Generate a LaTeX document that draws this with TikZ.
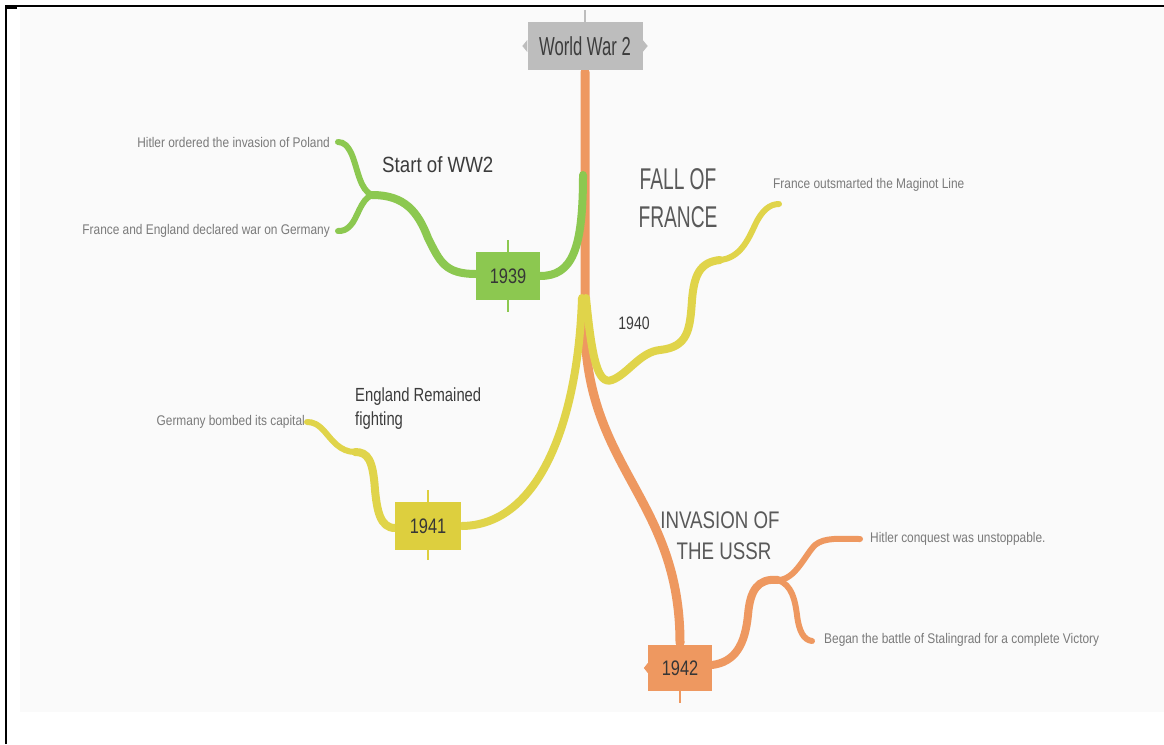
\documentclass[tikz,border=0pt]{standalone}
\usepackage{fontspec}
\setmainfont{Liberation Sans}
\newfontfamily\slimA[FakeStretch=0.64]{Liberation Sans}
\newfontfamily\slimB[FakeStretch=0.78]{Liberation Sans}
\newfontfamily\slimC[FakeStretch=0.85]{Liberation Sans}
\definecolor{canvas}{HTML}{FAFAFA}
\definecolor{rootgray}{HTML}{BDBDBD}
\definecolor{ink}{HTML}{3C3C3C}
\definecolor{leafink}{HTML}{7A7A7A}
\definecolor{grn}{HTML}{8CC850}
\definecolor{ylw}{HTML}{E0D44A}
\definecolor{ylwbox}{HTML}{DDCF3E}
\definecolor{org}{HTML}{EE9860}
\tikzset{
  rootbox/.style={fill=rootgray, minimum width=115pt, minimum height=48pt, inner sep=0pt,
    font=\slimA\fontsize{26}{28}\selectfont, text=ink},
  yearbox/.style={minimum width=66pt, minimum height=48pt, inner sep=0pt,
    font=\slimB\fontsize{21}{23}\selectfont, text=ink!90!black},
  leaf/.style={font=\slimC\fontsize{14}{16}\selectfont, text=leafink, inner sep=0pt},
  topic/.style={font=\slimB\fontsize{19}{24}\selectfont, text=ink, inner sep=0pt, align=left},
  bigtopic/.style={font=\slimA\fontsize{30}{38}\selectfont, text=ink!85, inner sep=0pt, align=center},
  trunk/.style={line width=9pt, line cap=round, draw=#1},
  limb/.style={line width=8pt, line cap=round, draw=#1},
  twig/.style={line width=6pt, line cap=round, draw=#1},
  tick/.style={line width=2pt, draw=#1}
}
\begin{document}
\begin{tikzpicture}[x=1pt,y=-1pt]
\useasboundingbox (0,0) rectangle (1164,744);
\fill[white] (0,0) rectangle (1164,744);
\fill[canvas] (20,8) rectangle (1164,712);
% frame lines
\draw[black, line width=1.6pt] (6,744) -- (6,6) -- (1164,6);
\fill[black] (5,5) rectangle (17,9);

% node positions
\coordinate (rootpos) at (585,46);
\coordinate (p39) at (508,276);
\coordinate (p41) at (428,526);
\coordinate (p42) at (680,668);

% branch joints
\coordinate (t1) at (583,175);
\coordinate (t2) at (582,298);
\coordinate (t3) at (586,298);
\coordinate (t4) at (585,330);
\coordinate (f39) at (372,195);
\coordinate (f42) at (778,580);
\coordinate (e1) at (338,142);
\coordinate (e2) at (338,231);
\coordinate (e3) at (779,204);
\coordinate (e4) at (307,422);
\coordinate (e5) at (860,539);
\coordinate (e6) at (812,641);

% orange trunk down to 1942
\draw[trunk=org] (585,72) -- (t4) .. controls (588,470) and (680,500) .. (680,643);

% green branch: 1939
\draw[limb=grn] (t1) .. controls (583,250) and (572,276) .. (540,276);
\draw[limb=grn] (476,274) .. controls (445,274) and (440,262) .. (428,238)
   .. controls (418,212) and (405,195) .. (f39);
\draw[twig=grn] (f39) .. controls (360,190) and (358,170) .. (352,155)
   .. controls (348,146) and (344,142) .. (e1);
\draw[twig=grn] (f39) .. controls (360,200) and (358,218) .. (350,226)
   .. controls (346,230) and (343,231) .. (e2);

% yellow branch: 1940
\draw[limb=ylw] (t3) .. controls (592,360) and (598,385) .. (612,380)
   .. controls (628,374) and (640,352) .. (660,350)
   .. controls (688,347) and (690,330) .. (692,300)
   .. controls (694,275) and (700,262) .. (720,260);
\draw[twig=ylw] (720,260) .. controls (740,258) and (748,240) .. (755,225)
   .. controls (762,210) and (770,204) .. (e3);

% yellow branch: 1941
\draw[limb=ylw] (t2) .. controls (578,420) and (540,525) .. (462,526);
\draw[limb=ylw] (395,528) .. controls (380,528) and (377,510) .. (375,490)
   .. controls (373,460) and (368,452) .. (355,452);
\draw[twig=ylw] (355,452) .. controls (340,452) and (332,440) .. (325,432)
   .. controls (318,424) and (313,422) .. (e4);

% orange branch: 1942
\draw[limb=org] (712,665) .. controls (735,662) and (745,645) .. (748,615)
   .. controls (750,590) and (758,578) .. (f42);
\draw[twig=org] (f42) .. controls (795,580) and (805,555) .. (815,545)
   .. controls (825,537) and (840,539) .. (e5);
\draw[twig=org] (f42) .. controls (792,585) and (795,600) .. (797,615)
   .. controls (799,632) and (804,640) .. (e6);

% root node
\draw[tick=rootgray] (585,10) -- (585,24);
\node[rootbox] (root) at (rootpos) {World War 2};
\fill[rootgray] (root.west) ++(0,-6) -- ++(-5,6) -- ++(5,6) -- cycle;
\fill[rootgray] (root.east) ++(0,-6) -- ++(5,6) -- ++(-5,6) -- cycle;

% year nodes
\draw[tick=grn] (508,240) -- (508,312);
\node[yearbox, fill=grn, minimum width=64pt] (y39) at (p39) {1939};
\draw[tick=ylwbox] (428,490) -- (428,560);
\node[yearbox, fill=ylwbox] (y41) at (p41) {1941};
\draw[tick=org] (680,635) -- (680,703);
\node[yearbox, fill=org, minimum width=64pt, minimum height=46pt] (y42) at (p42) {1942};
\fill[org] (y42.west) ++(0,-5) -- ++(-4,5) -- ++(4,5) -- cycle;

% topic labels
\node[topic, anchor=west, font=\slimC\fontsize{22}{26}\selectfont] (l39) at (382,165) {Start of WW2};
\node[bigtopic] (l40a) at (678,198) {FALL OF\\FRANCE};
\node[topic, font=\slimB\fontsize{18}{22}\selectfont] (l40) at (634,323) {1940};
\node[topic, anchor=north west] (l41) at (355,388) {England Remained\\fighting};
\node[bigtopic, font=\slimB\fontsize{24}{31}\selectfont] (l42) at (720,536) {INVASION OF\\\hspace*{8pt}THE USSR};

% leaf texts
\node[leaf, anchor=east] (n1) at ([xshift=-8pt]e1) {Hitler ordered the invasion of Poland};
\node[leaf, anchor=east] (n2) at ([xshift=-8pt]e2) {France and England declared war on Germany};
\node[leaf, anchor=west] (n3) at ([xshift=-6pt,yshift=19pt]e3) {France outsmarted the Maginot Line};
\node[leaf, anchor=east] (n4) at ([xshift=-2pt]e4) {Germany bombed its capital};
\node[leaf, anchor=west] (n5) at ([xshift=10pt]e5) {Hitler conquest was unstoppable.};
\node[leaf, anchor=west] (n6) at ([xshift=12pt,yshift=1pt]e6) {Began the battle of Stalingrad for a complete Victory};
\end{tikzpicture}
\end{document}
